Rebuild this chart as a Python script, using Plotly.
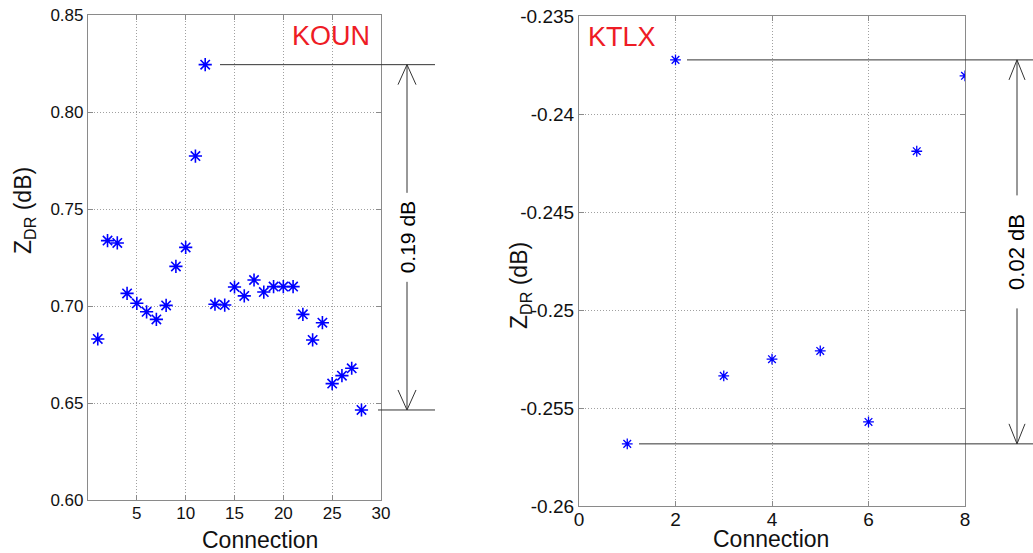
import plotly.graph_objects as go

# ---- data ----
koun_conn = list(range(1, 29))
koun_zdr = [0.683, 0.7337, 0.7325, 0.7065, 0.7014, 0.697, 0.6931, 0.7003, 0.7204, 0.7302,
            0.7773, 0.8244, 0.7009, 0.7005, 0.7098, 0.7052, 0.7134, 0.7072, 0.710, 0.710,
            0.710, 0.6957, 0.6825, 0.6914, 0.660, 0.6641, 0.6679, 0.6464]
ktlx_conn = list(range(1, 9))
ktlx_zdr = [-0.25683, -0.23724, -0.25336, -0.25251, -0.25209, -0.25571, -0.2419, -0.23805]

koun_yticks = [0.60, 0.65, 0.70, 0.75, 0.80, 0.85]
koun_xticks = [5, 10, 15, 20, 25, 30]
ktlx_yticks = [-0.26, -0.255, -0.25, -0.245, -0.24, -0.235]
ktlx_xticks = [0, 2, 4, 6, 8]
koun_label = "KOUN"
ktlx_label = "KTLX"
koun_range_text = "0.19 dB"
ktlx_range_text = "0.02 dB"
x_title = "Connection"
y_title = "Z<sub>DR</sub> (dB)"

FONT = "Liberation Sans, Arial, sans-serif"
BLUE = "#0000ff"
RED = "#ee1c25"
GRID = "#a0a0a0"
BOX = "#8a8a8a"
LINE = "#333333"
TXT = "#111111"

W, H = 1033, 553

fig = go.Figure()
fig.add_trace(go.Scatter(x=koun_conn, y=koun_zdr, mode="markers", xaxis="x", yaxis="y",
                         marker=dict(symbol="asterisk-open", size=11, color=BLUE,
                                     line=dict(color=BLUE, width=1.6))))
fig.add_trace(go.Scatter(x=ktlx_conn, y=ktlx_zdr, mode="markers", xaxis="x2", yaxis="y2",
                         marker=dict(symbol="asterisk-open", size=9, color=BLUE,
                                     line=dict(color=BLUE, width=1.3))))

def axis_common(fs):
    return dict(showgrid=True, gridcolor=GRID, griddash="1px,2px", gridwidth=1,
                showline=True, linecolor=BOX, linewidth=1.2, mirror="ticks",
                ticks="inside", ticklen=5, tickcolor=BOX, zeroline=False, automargin=False,
                tickfont=dict(family=FONT, size=fs, color=TXT))

fig.update_layout(
    width=W, height=H,
    margin=dict(l=0, r=0, t=0, b=0, pad=0),
    paper_bgcolor="white", plot_bgcolor="white",
    showlegend=False,
    xaxis=dict(domain=[88 / W, 381 / W], range=[0, 30], tickvals=koun_xticks,
               ticklabelstandoff=-3, anchor="y", **axis_common(17)),
    yaxis=dict(domain=[1 - 500 / H, 1 - 15 / H], range=[0.60, 0.85], tickvals=koun_yticks,
               ticktext=[f"{v:.2f}" for v in koun_yticks], anchor="x", **axis_common(17)),
    xaxis2=dict(domain=[579 / W, 965 / W], range=[0, 8], tickvals=ktlx_xticks,
                ticklabelstandoff=-4, anchor="y2", **axis_common(19)),
    yaxis2=dict(domain=[1 - 506 / H, 1 - 16 / H], range=[-0.26, -0.235], tickvals=ktlx_yticks,
                ticktext=[f"{v:g}" for v in ktlx_yticks], anchor="x2", **axis_common(19)),
)

def label(text, px, py, fs, color=TXT, angle=0):
    fig.add_annotation(text=text, xref="paper", yref="paper", x=px / W, y=1 - py / H,
                       xanchor="center", yanchor="middle", textangle=angle, showarrow=False,
                       font=dict(family=FONT, size=fs, color=color))

# axis titles
label(x_title, 260, 540, 23)
label(x_title, 771, 539, 23)
label(y_title, 24, 211, 23, angle=-90)
label(y_title, 520, 286, 23, angle=-90)

# station labels
label(koun_label, 331, 36, 27, color=RED)
label(ktlx_label, 622, 37, 27, color=RED)

def range_marker(ymax, ymin, yref, x_top0, x_bot0, x_end, x_arrow, head_h, head_w, text, fs, gap_pad):
    fig.add_shape(type="line", xref="paper", yref=yref, x0=x_top0, x1=x_end, y0=ymax, y1=ymax,
                  line=dict(color=LINE, width=1))
    fig.add_shape(type="line", xref="paper", yref=yref, x0=x_bot0, x1=x_end, y0=ymin, y1=ymin,
                  line=dict(color=LINE, width=1))
    fig.add_shape(type="line", xref="paper", yref=yref, x0=x_arrow, x1=x_arrow, y0=ymin, y1=ymax,
                  line=dict(color=LINE, width=1))
    # open V heads
    fig.add_shape(type="path", xref="paper", yref=yref,
                  path=f"M{x_arrow - head_w},{ymax - head_h} L{x_arrow},{ymax} L{x_arrow + head_w},{ymax - head_h}",
                  line=dict(color=LINE, width=1))
    fig.add_shape(type="path", xref="paper", yref=yref,
                  path=f"M{x_arrow - head_w},{ymin + head_h} L{x_arrow},{ymin} L{x_arrow + head_w},{ymin + head_h}",
                  line=dict(color=LINE, width=1))
    fig.add_annotation(text=text, xref="paper", yref=yref, x=x_arrow, y=(ymax + ymin) / 2,
                       xanchor="center", yanchor="middle",
                       textangle=-90, showarrow=False, bgcolor="white", borderpad=gap_pad,
                       font=dict(family=FONT, size=fs, color="#000000"))

kmax, kmin = max(koun_zdr), min(koun_zdr)
range_marker(kmax, kmin, "y", 220 / W, 378 / W, 435 / W, 407 / W,
             head_h=0.25 / 485 * 20, head_w=9 / W, text=koun_range_text, fs=21, gap_pad=8)
tmax, tmin = max(ktlx_zdr), min(ktlx_zdr)
range_marker(tmax, tmin, "y2", 687 / W, 639 / W, 1.0, 1017 / W,
             head_h=0.025 / 490 * 20, head_w=8 / W, text=ktlx_range_text, fs=22, gap_pad=18)

fig.write_html("out.html",
               post_script="document.body.style.margin='0';document.body.style.overflow='hidden';")
